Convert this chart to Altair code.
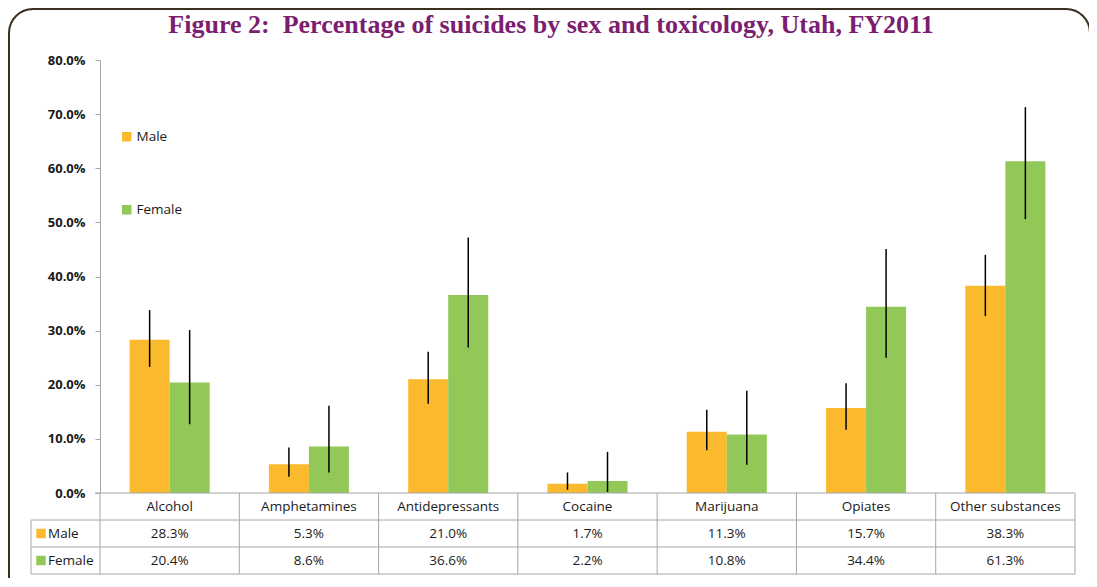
import altair as alt
import pandas as pd

categories = ["Alcohol", "Amphetamines", "Antidepressants", "Cocaine",
              "Marijuana", "Opiates", "Other substances"]
sexes = ["Male", "Female"]
male = [28.3, 5.3, 21.0, 1.7, 11.3, 15.7, 38.3]
female = [20.4, 8.6, 36.6, 2.2, 10.8, 34.4, 61.3]
male_lo = [23.3, 3.0, 16.5, 0.6, 7.9, 11.7, 32.7]
male_hi = [33.8, 8.4, 26.1, 3.8, 15.4, 20.3, 44.0]
female_lo = [12.7, 3.8, 26.9, 0.2, 5.2, 25.0, 50.6]
female_hi = [30.1, 16.1, 47.2, 7.6, 18.9, 45.1, 71.3]
y_ticks = [0, 10, 20, 30, 40, 50, 60, 70, 80]
colors = ["#FBB92D", "#92C858"]
title_text = "Figure 2:\u00a0 Percentage of suicides by sex and toxicology, Utah, FY2011"

rows = []
for i, c in enumerate(categories):
    rows.append(dict(cat=c, sex="Male", value=male[i], lo=male_lo[i], hi=male_hi[i],
                     label=f"{male[i]:.1f}%"))
    rows.append(dict(cat=c, sex="Female", value=female[i], lo=female_lo[i], hi=female_hi[i],
                     label=f"{female[i]:.1f}%"))
df = pd.DataFrame(rows)
cat_df = pd.DataFrame({"cat": categories, "row": ["header"] * len(categories)})
sex_df = pd.DataFrame({"sex": sexes})
title_df = pd.DataFrame({"t": [title_text]})

W = 975
PLOT_H = 433
ROW_H = 27
TABLE_BOTTOM = PLOT_H + 3 * ROW_H
LEFT_COL = -69
FONT = "Open Sans"
FS = 13.5
GRID = "#A6A6A6"

xs = alt.Scale(domain=categories, paddingInner=0, paddingOuter=0)
xo = alt.Scale(domain=sexes, paddingInner=0, paddingOuter=0.74)
ys = alt.Scale(domain=[0, 80], range=[PLOT_H, 0], nice=False)
rs = alt.Scale(domain=["header"] + sexes, range=[PLOT_H, TABLE_BOTTOM], paddingInner=0, paddingOuter=0)
cs = alt.Scale(domain=sexes, range=colors)

frame = alt.Chart(sex_df.head(1)).mark_rect(
    fillOpacity=0, stroke="#3B3020", strokeWidth=2, cornerRadius=24
).encode(x=alt.value(-91), x2=alt.value(990), y=alt.value(-51), y2=alt.value(540))

title = alt.Chart(title_df).mark_text(
    font="Liberation Serif", fontSize=26, fontWeight="bold", color="#7B1E6F",
    align="center", baseline="alphabetic"
).encode(x=alt.value(451), y=alt.value(-27), text="t:N")

bars = alt.Chart(df).mark_bar().encode(
    x=alt.X("cat:N", scale=xs, axis=None, sort=categories),
    xOffset=alt.XOffset("sex:N", scale=xo, sort=sexes),
    y=alt.Y("value:Q", scale=ys, axis=alt.Axis(
        values=y_ticks, labelExpr="format(datum.value, '.1f') + '%'", title=None,
        grid=False, tickSize=5, tickColor=GRID, domainColor=GRID,
        labelFont=FONT, labelFontSize=13, labelFontWeight="bold", labelColor="#1a1a1a",
        labelPadding=10)),
    color=alt.Color("sex:N", scale=cs, sort=sexes, legend=alt.Legend(
        title=None, orient="none", legendX=20, legendY=70, symbolType="square",
        symbolSize=90, symbolStrokeWidth=0, labelFont=FONT, labelFontSize=FS,
        labelColor="#1a1a1a", rowPadding=58, labelOffset=3)),
)

errs = alt.Chart(df).mark_rule(color="black", strokeWidth=1.5).encode(
    x=alt.X("cat:N", scale=xs, axis=None, sort=categories),
    xOffset=alt.XOffset("sex:N", scale=xo, sort=sexes),
    y=alt.Y("lo:Q", scale=ys, axis=None),
    y2="hi:Q",
)

vlines = alt.Chart(cat_df).mark_rule(color=GRID, strokeWidth=1).encode(
    x=alt.X("cat:N", scale=xs, axis=None, sort=categories, bandPosition=0),
    y=alt.value(PLOT_H), y2=alt.value(TABLE_BOTTOM),
)
edge_lines = alt.Chart(pd.DataFrame({"xpos": [W, LEFT_COL], "ytop": [PLOT_H, PLOT_H + ROW_H]})).mark_rule(
    color=GRID, strokeWidth=1).encode(
    x=alt.X("xpos:Q", scale=alt.Scale(domain=[0, W], range=[0, W]), axis=None),
    y=alt.Y("ytop:Q", scale=alt.Scale(domain=[0, TABLE_BOTTOM], range=[0, TABLE_BOTTOM]), axis=None),
    y2=alt.value(TABLE_BOTTOM),
)
hline_df = pd.DataFrame({"row": ["header"] + sexes})
top_line = alt.Chart(cat_df.head(1)).mark_rule(color=GRID, strokeWidth=1).encode(
    y=alt.Y("row:N", scale=rs, axis=None, bandPosition=0), x=alt.value(-5), x2=alt.value(W))
hlines = alt.Chart(hline_df).mark_rule(color=GRID, strokeWidth=1).encode(
    y=alt.Y("row:N", scale=rs, axis=None, bandPosition=1), x=alt.value(LEFT_COL), x2=alt.value(W))

header = alt.Chart(cat_df).mark_text(font=FONT, fontSize=FS, color="#1a1a1a").encode(
    x=alt.X("cat:N", scale=xs, axis=None, sort=categories),
    y=alt.Y("row:N", scale=rs, axis=None),
    text="cat:N",
)
cells = alt.Chart(df).mark_text(font=FONT, fontSize=FS, color="#1a1a1a").encode(
    x=alt.X("cat:N", scale=xs, axis=None, sort=categories),
    y=alt.Y("sex:N", scale=rs, axis=None),
    text="label:N",
)
row_labels = alt.Chart(sex_df).mark_text(font=FONT, fontSize=FS, color="#1a1a1a", align="left").encode(
    x=alt.value(LEFT_COL + 17),
    y=alt.Y("sex:N", scale=rs, axis=None),
    text="sex:N",
)
row_keys = alt.Chart(sex_df).mark_square(size=90, opacity=1).encode(
    x=alt.value(LEFT_COL + 10),
    y=alt.Y("sex:N", scale=rs, axis=None),
    color=alt.Color("sex:N", scale=cs, sort=sexes, legend=None),
)

chart = alt.layer(
    frame, title, bars, errs, vlines, edge_lines, top_line, hlines, header, cells, row_labels, row_keys
).resolve_scale(y="independent").properties(
    width=W, height=TABLE_BOTTOM,
    padding={"left": 92, "top": 52, "right": 14, "bottom": 4},
    autosize=alt.AutoSizeParams(type="none"),
).configure_view(stroke=None)

chart.save("out.html", embed_options={"renderer": "svg", "actions": False})
